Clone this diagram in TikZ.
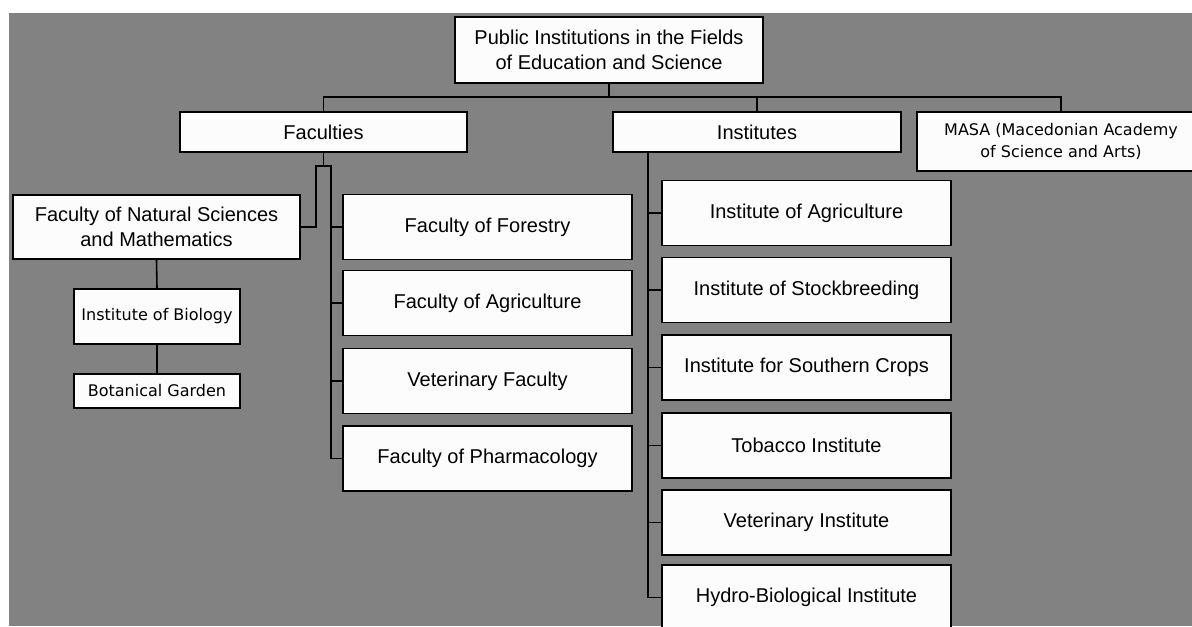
\documentclass[tikz,border=0pt]{standalone}
\usepackage{fontspec}
\setmainfont{Liberation Sans}
\newfontfamily\smallfont{DejaVu Sans}
\definecolor{bggray}{RGB}{130,130,130}
\definecolor{boxwhite}{RGB}{252,252,252}

\begin{document}
\begin{tikzpicture}[x=0.5pt,y=-0.5pt,
  unit/.style={draw=black,line width=0.9pt,fill=boxwhite,inner sep=0pt,align=center,
    font=\fontsize{10}{12.5}\selectfont},
  minor/.style={unit,font=\smallfont\fontsize{8}{11}\selectfont},
  link/.style={line width=0.8pt}]
\useasboundingbox (0,0) rectangle (1192,626);
\clip (0,0) rectangle (1192,626);
\fill[bggray] (9,13) rectangle (1192,626);
% top level
\node[unit,minimum width=154pt,minimum height=33pt] (top) at (609,50)
  {Public Institutions in the Fields\\of Education and Science};
\node[unit,minimum width=143.5pt,minimum height=20pt] (fac) at (323.5,132) {Faculties};
\node[unit,minimum width=144pt,minimum height=20pt] (inst) at (757,132) {Institutes};
\node[minor,minimum width=144pt,minimum height=29.5pt] (masa) at (1061,141.5)
  {MASA (Macedonian Academy\\of Science and Arts)};
\coordinate (bus) at (609,97);
\draw[link] (top.south) -- (top.south |- bus);
\draw[link] (fac.north) |- (bus) -| (masa.north);
\draw[link] (inst.north) -- (inst.north |- bus);
% faculties
\node[unit,minimum width=143.5pt,minimum height=32pt] (fnsm) at (156.5,227)
  {Faculty of Natural Sciences\\and Mathematics};
\node[minor,minimum width=83pt,minimum height=27.5pt] (bio) at (157,316.5) {Institute of Biology};
\node[minor,minimum width=83pt,minimum height=17pt] (garden) at (157,391) {Botanical Garden};
\draw[link] (fnsm.south) -- (bio.north);
\draw[link] (bio.south) -- (garden.north);
\foreach \nm/\yy/\txt in {fforest/227/Faculty of Forestry,fagri/303/Faculty of Agriculture,
    fvet/381/Veterinary Faculty,fpharm/458.5/Faculty of Pharmacology}
  \node[unit,minimum width=144.5pt,minimum height=32.5pt] (\nm) at (487.5,\yy) {\txt};
\coordinate (forkL) at (316,166);
\coordinate (forkR) at (331,166);
\draw[link] (fac.south) -- (fac.south |- forkL);
\draw[link] (fnsm.east) -| (forkL) -- (forkR) -- (forkR |- fpharm.west);
\foreach \nm in {fforest,fagri,fvet,fpharm}
  \draw[link] (\nm.west) -- (\nm.west -| forkR);
% institutes
\foreach \nm/\yy/\txt in {iagri/213/Institute of Agriculture,istock/290/Institute of Stockbreeding,
    isouth/367.5/Institute for Southern Crops,itob/445.5/Tobacco Institute,
    ivet/522.5/Veterinary Institute,ihydro/597.5/Hydro-Biological Institute}
  \node[unit,minimum width=144.5pt,minimum height=32.5pt] (\nm) at (806.5,\yy) {\txt};
\coordinate (trunk) at (648,152);
\draw[link] (trunk) |- (ihydro.west);
\foreach \nm in {iagri,istock,isouth,itob,ivet}
  \draw[link] (\nm.west) -- (\nm.west -| trunk);
\end{tikzpicture}
\end{document}
